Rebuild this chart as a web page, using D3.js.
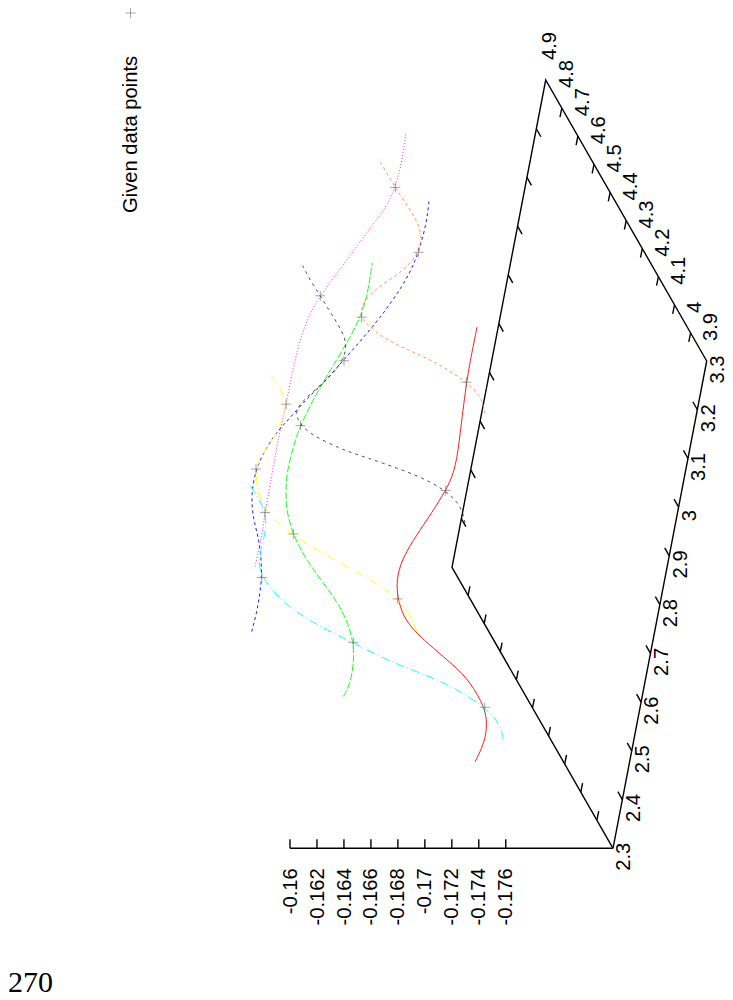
<!DOCTYPE html>
<html>
<head>
<meta charset="utf-8">
<script src="https://cdnjs.cloudflare.com/ajax/libs/d3/7.8.5/d3.min.js"></script>
<style>
  html, body { margin: 0; padding: 0; background: #fff; }
  svg { display: block; }
  text { font-family: "Liberation Sans", sans-serif; font-size: 20.2px; fill: #000; }
  .page { font-family: "Liberation Serif", serif; font-size: 30px; }
</style>
</head>
<body>
<div id="container"></div>
<script>
const width = 733;
const height = 1000;

// axis ticks
const xTicks = [2.3, 2.4, 2.5, 2.6, 2.7, 2.8, 2.9, 3, 3.1, 3.2, 3.3];
const yTicks = [3.9, 4, 4.1, 4.2, 4.3, 4.4, 4.5, 4.6, 4.7, 4.8, 4.9];
const zTicks = [-0.16, -0.162, -0.164, -0.166, -0.168, -0.17, -0.172, -0.174, -0.176];

// given data points, grid of x and y with z per y row
const gridX = [2.5, 2.7224, 2.9448, 3.1672];
const gridY = [4.055, 4.286, 4.517, 4.748];
const gridZ0 = [-0.1749, -0.1669, -0.16891, -0.1689];
const gridZ1 = [-0.16792, -0.16192, -0.1609, -0.16389];
const gridZ2 = [-0.16389, -0.16191, -0.16689, -0.17088];
const gridZ3 = [-0.16688, -0.1669, -0.16789, -0.17191];

// curves along x, one per y row
const redX = [2.388, 2.429, 2.467, 2.5, 2.553, 2.587, 2.621, 2.655, 2.686, 2.723, 2.761, 2.802, 2.843, 2.884, 2.915, 2.946, 2.97, 3.007, 3.049, 3.168, 3.226, 3.28];
const redZ = [-0.17496, -0.17541, -0.17532, -0.1749, -0.17345, -0.17197, -0.17025, -0.16865, -0.16757, -0.1669, -0.16653, -0.16664, -0.16722, -0.16793, -0.16846, -0.16891, -0.16919, -0.1693, -0.16921, -0.1689, -0.16889, -0.16891];
const greenX = [2.389, 2.416, 2.464, 2.499, 2.539, 2.573, 2.604, 2.649, 2.686, 2.722, 2.761, 2.809, 2.854, 2.902, 2.946, 3.025, 3.09, 3.168, 3.223, 3.279];
const greenZ = [-0.16795, -0.1683, -0.16822, -0.16792, -0.16727, -0.16642, -0.16546, -0.16392, -0.16279, -0.16192, -0.1612, -0.16072, -0.16056, -0.16067, -0.16088, -0.1618, -0.16283, -0.16389, -0.164, -0.16391];
const blueX = [2.389, 2.42, 2.454, 2.5, 2.543, 2.584, 2.618, 2.669, 2.723, 2.755, 2.789, 2.813, 2.847, 2.877, 2.898, 2.948, 3.011, 3.069, 3.124, 3.169, 3.227, 3.278];
const blueZ = [-0.16391, -0.16399, -0.164, -0.1639, -0.16353, -0.16305, -0.16244, -0.16189, -0.16191, -0.16223, -0.16273, -0.16331, -0.16418, -0.16497, -0.16568, -0.16689, -0.16848, -0.16968, -0.17054, -0.17088, -0.17106, -0.1709];
const magentaX = [2.389, 2.427, 2.471, 2.5, 2.529, 2.581, 2.635, 2.683, 2.722, 2.799, 2.868, 2.916, 2.945, 3.018, 3.083, 3.128, 3.168, 3.217, 3.277];
const magentaZ = [-0.16691, -0.16695, -0.16696, -0.16688, -0.16688, -0.16686, -0.16681, -0.16685, -0.1669, -0.1669, -0.16705, -0.16746, -0.16789, -0.16934, -0.17061, -0.17155, -0.17191, -0.17204, -0.17192];

// curves along y, one per x column
const cyanY = [3.941, 3.998, 4.055, 4.105, 4.144, 4.182, 4.223, 4.285, 4.33, 4.377, 4.437, 4.518, 4.567, 4.627, 4.698, 4.748, 4.804, 4.861];
const cyanZ = [-0.17492, -0.17535, -0.1749, -0.17391, -0.17289, -0.17137, -0.16964, -0.1679, -0.16647, -0.1653, -0.16428, -0.16389, -0.16423, -0.16519, -0.16641, -0.16688, -0.16706, -0.16688];
const yellowY = [3.938, 3.992, 4.056, 4.111, 4.164, 4.211, 4.253, 4.285, 4.336, 4.383, 4.454, 4.517, 4.555, 4.603, 4.65, 4.716, 4.748, 4.781, 4.828, 4.852];
const yellowZ = [-0.16692, -0.16718, -0.16691, -0.16601, -0.16467, -0.1635, -0.16239, -0.16191, -0.16103, -0.16085, -0.16116, -0.16191, -0.16267, -0.16385, -0.16515, -0.16643, -0.16689, -0.16708, -0.16716, -0.16695];
const blackY = [3.94, 3.998, 4.057, 4.11, 4.152, 4.188, 4.202, 4.249, 4.288, 4.33, 4.365, 4.419, 4.46, 4.522, 4.579, 4.626, 4.691, 4.748, 4.804, 4.855];
const blackZ = [-0.16897, -0.16942, -0.16894, -0.16743, -0.16545, -0.16365, -0.16296, -0.16141, -0.16092, -0.16102, -0.16182, -0.16369, -0.16517, -0.16697, -0.16783, -0.16802, -0.16793, -0.1679, -0.1678, -0.16786];
const orangeY = [3.944, 4.003, 4.056, 4.11, 4.152, 4.187, 4.229, 4.27, 4.288, 4.318, 4.365, 4.413, 4.46, 4.519, 4.579, 4.644, 4.703, 4.748, 4.798, 4.848];
const orangeZ = [-0.16896, -0.16942, -0.16891, -0.16785, -0.16662, -0.16532, -0.16433, -0.16395, -0.16392, -0.16423, -0.16533, -0.16726, -0.16932, -0.17091, -0.17192, -0.17212, -0.17197, -0.17191, -0.17187, -0.17189];

const legendLabel = "Given data points";
const pageNumber = "270";

// corners of the base, the page is turned 90 degrees
const A = [613, 848.3];
const B = [706.7, 361];
const D = [452, 567.3];

const xFrac = d3.scaleLinear().domain([2.3, 3.3]).range([0, 1]);
const yFrac = d3.scaleLinear().domain([3.9, 4.9]).range([0, 1]);
const zPos = d3.scaleLinear().domain([-0.16, -0.176]).range([290, 505.76]);

function project(x, y, z) {
  const u = xFrac(x), v = yFrac(y);
  const dx = (B[0] - A[0]) * u + (D[0] - A[0]) * v;
  const dy = (B[1] - A[1]) * u + (D[1] - A[1]) * v;
  return [(z === undefined ? A[0] : zPos(z)) + dx, A[1] + dy];
}

const svg = d3.select("#container").append("svg")
  .attr("width", width)
  .attr("height", height);

// base frame
const frame = svg.append("g").attr("fill", "none").attr("stroke", "#000").attr("stroke-width", 1.4);
const corners = [[2.3, 3.9], [3.3, 3.9], [3.3, 4.9], [2.3, 4.9], [2.3, 3.9]].map(d => project(d[0], d[1]));
frame.append("path").attr("d", d3.line()(corners));

function tick(p, dir) {
  frame.append("line")
    .attr("x1", p[0]).attr("y1", p[1])
    .attr("x2", p[0] + dir[0]).attr("y2", p[1] + dir[1]);
}

// ticks and labels on x
xTicks.forEach((d) => {
  const p = project(d, 3.9);
  if (d > 2.3 && d < 3.3) {
    tick(p, [-4.5, -8]);
    tick(project(d, 4.9), [4.5, 8]);
  }
  svg.append("text")
    .attr("transform", "translate(" + (p[0] + 10) + "," + (p[1] + 8.5) + ") rotate(-90)")
    .attr("text-anchor", "middle")
    .attr("dy", "0.36em")
    .text(d);
});

// ticks and labels on y
yTicks.forEach((d) => {
  const p = project(3.3, d);
  if (d > 3.9 && d < 4.9) {
    tick(p, [-1.8, 9]);
    tick(project(2.3, d), [1.8, -9]);
  }
  svg.append("text")
    .attr("transform", "translate(" + (p[0] + 3.5) + "," + (p[1] - 20) + ") rotate(-90)")
    .attr("dy", "0.36em")
    .text(d);
});

// z axis runs sideways from the first corner
frame.append("line")
  .attr("x1", zPos(-0.16)).attr("y1", A[1])
  .attr("x2", A[0]).attr("y2", A[1]);
zTicks.forEach((d) => {
  tick([zPos(d), A[1]], [0, -9]);
  svg.append("text")
    .attr("transform", "translate(" + (zPos(d) - 0.7) + "," + (A[1] + 20) + ") rotate(-90)")
    .attr("text-anchor", "end")
    .attr("dy", "0.36em")
    .text(d);
});

const curve = d3.line().curve(d3.curveBasis);

const curvesAlongX = [
  { xs: redX, zs: redZ, y: gridY[0], color: "#ff0000", dash: null },
  { xs: greenX, zs: greenZ, y: gridY[1], color: "#00ff00", dash: "7,2" },
  { xs: blueX, zs: blueZ, y: gridY[2], color: "#0000ff", dash: "3,3" },
  { xs: magentaX, zs: magentaZ, y: gridY[3], color: "#ff00ff", dash: "1,2" }
];
const curvesAlongY = [
  { ys: cyanY, zs: cyanZ, x: gridX[0], color: "#00ffff", dash: "9,3,1,3" },
  { ys: yellowY, zs: yellowZ, x: gridX[1], color: "#ffff00", dash: "9,3,1,3" },
  { ys: blackY, zs: blackZ, x: gridX[2], color: "#000000", dash: "3,4", w: 0.7 },
  { ys: orangeY, zs: orangeZ, x: gridX[3], color: "#ff7f50", dash: "3,3" }
];

curvesAlongX.forEach((c) => {
  svg.append("path")
    .attr("d", curve(c.xs.map((x, i) => project(x, c.y, c.zs[i]))))
    .attr("fill", "none").attr("stroke", c.color).attr("stroke-width", c.w || 0.9)
    .attr("stroke-dasharray", c.dash);
});
curvesAlongY.forEach((c) => {
  svg.append("path")
    .attr("d", curve(c.ys.map((y, i) => project(c.x, y, c.zs[i]))))
    .attr("fill", "none").attr("stroke", c.color).attr("stroke-width", c.w || 0.9)
    .attr("stroke-dasharray", c.dash);
});

// given data points
const rows = [gridZ0, gridZ1, gridZ2, gridZ3];
const markers = svg.append("g").attr("stroke", "#666").attr("stroke-width", 0.6);
rows.forEach((row, j) => {
  row.forEach((z, i) => {
    const p = project(gridX[i], gridY[j], z);
    markers.append("path")
      .attr("d", "M" + (p[0] - 5) + "," + p[1] + "H" + (p[0] + 5) + "M" + p[0] + "," + (p[1] - 5) + "V" + (p[1] + 5));
  });
});

// legend
markers.append("path").attr("d", "M125.5,13H135.5M130.5,8V18");
svg.append("text")
  .attr("transform", "translate(130,213) rotate(-90)")
  .attr("dy", "0.36em")
  .text(legendLabel);

svg.append("text").attr("class", "page")
  .attr("x", 8).attr("y", 991.5)
  .text(pageNumber);
</script>
</body>
</html>
